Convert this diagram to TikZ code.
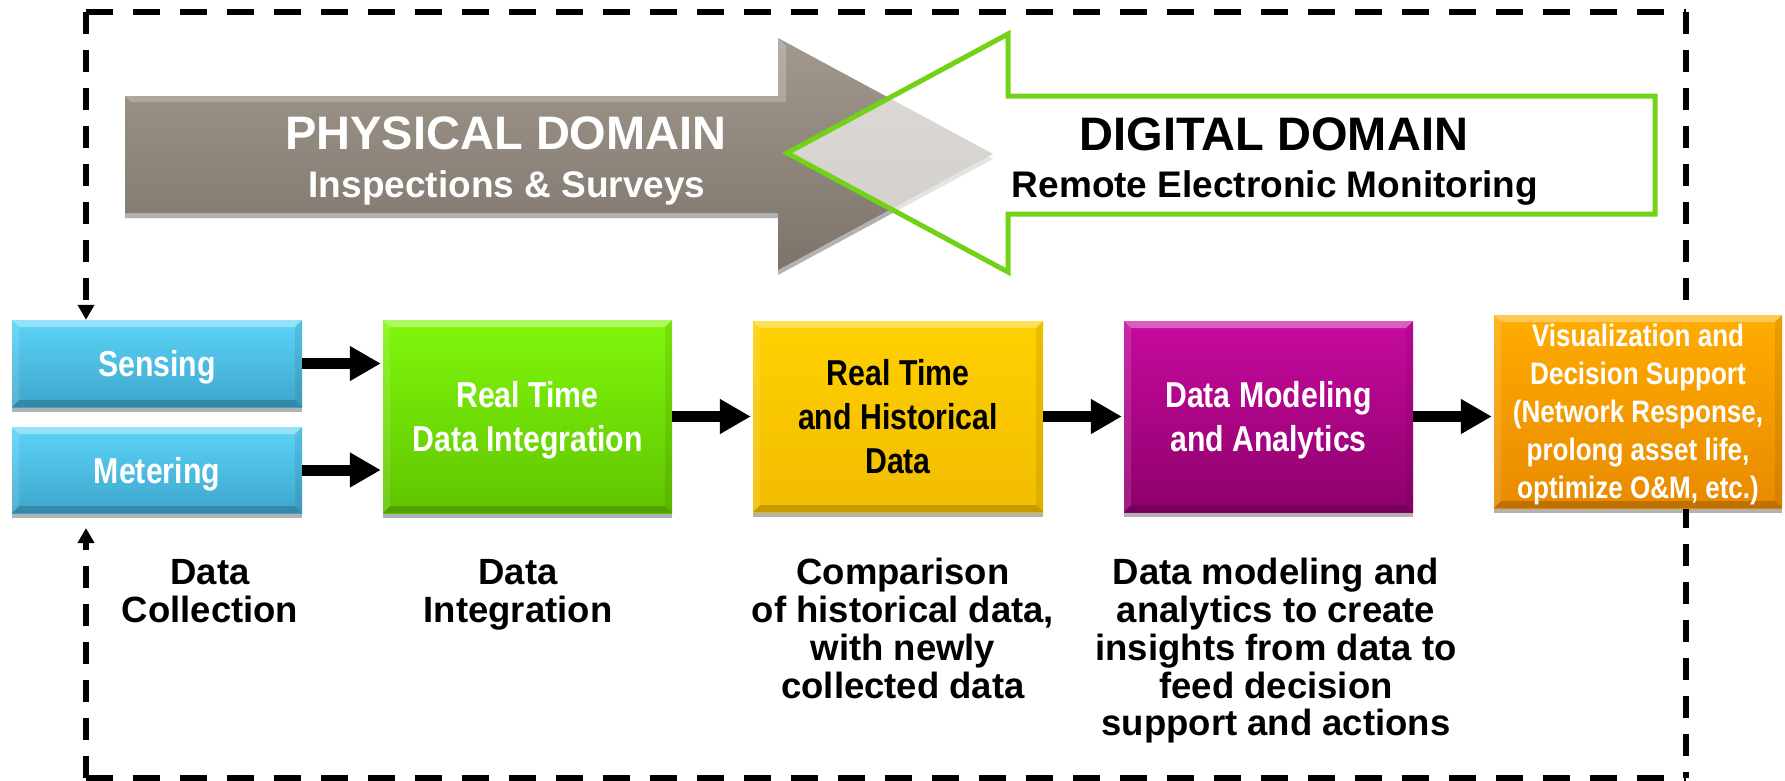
\documentclass[tikz,border=0pt]{standalone}
\usepackage{fontspec}
\setmainfont{Liberation Sans}
\newfontfamily\narrowfont[FakeStretch=0.84]{Liberation Sans}
\usetikzlibrary{arrows.meta,shadows}
\definecolor{blueT}{RGB}{92,211,247}
\definecolor{blueB}{RGB}{62,166,204}
\definecolor{greenT}{RGB}{128,247,12}
\definecolor{greenB}{RGB}{96,196,0}
\definecolor{yellowT}{RGB}{255,208,0}
\definecolor{yellowB}{RGB}{242,188,0}
\definecolor{magT}{RGB}{198,10,158}
\definecolor{magB}{RGB}{142,0,108}
\definecolor{orT}{RGB}{255,172,0}
\definecolor{orB}{RGB}{232,138,0}
\definecolor{greyT}{RGB}{162,152,142}
\definecolor{greyB}{RGB}{124,116,107}
\definecolor{arrgreen}{RGB}{114,210,22}
\tikzset{
  bevel/.style={path picture={
    \fill[white,opacity=0.35] (path picture bounding box.north west) -- (path picture bounding box.north east) -- ([xshift=-7pt,yshift=-7pt]path picture bounding box.north east) -- ([xshift=7pt,yshift=-7pt]path picture bounding box.north west) -- cycle;
    \fill[black,opacity=0.18] (path picture bounding box.south west) -- (path picture bounding box.south east) -- ([xshift=-7pt,yshift=7pt]path picture bounding box.south east) -- ([xshift=7pt,yshift=7pt]path picture bounding box.south west) -- cycle;
    \fill[white,opacity=0.12] (path picture bounding box.north west) -- ([xshift=7pt,yshift=-7pt]path picture bounding box.north west) -- ([xshift=7pt,yshift=7pt]path picture bounding box.south west) -- (path picture bounding box.south west) -- cycle;
    \fill[black,opacity=0.08] (path picture bounding box.north east) -- ([xshift=-7pt,yshift=-7pt]path picture bounding box.north east) -- ([xshift=-7pt,yshift=7pt]path picture bounding box.south east) -- (path picture bounding box.south east) -- cycle;
  }},
  procbox/.style={inner sep=0pt, align=center, text=white, text depth=0pt,
    font=\narrowfont\bfseries\fontsize{36}{44}\selectfont,
    drop shadow={shadow xshift=0pt,shadow yshift=-5pt,opacity=0.3,fill=black}, bevel},
  flow/.style={line width=11pt, -{Triangle[length=31pt,width=33pt]}, shorten >=2pt},
  frameh/.style={line width=6pt, dash pattern=on 27pt off 20pt},
  framev/.style={line width=6pt, dash pattern=on 22pt off 16pt},
  framearrow/.style={framev, -{Triangle[length=15pt,width=16pt]}},
  caption/.style={inner sep=0pt, align=center, anchor=north,
    font=\bfseries\fontsize{36.5}{37.8}\selectfont},
  bigtitle/.style={inner sep=0pt, font=\bfseries\fontsize{47}{56}\selectfont},
  subtitle/.style={inner sep=0pt, font=\bfseries\fontsize{37}{44}\selectfont},
}
\begin{document}
\begin{tikzpicture}[x=1pt,y=-1pt]
\useasboundingbox (0,0) rectangle (1785,780);
% dashed frame
\coordinate (ftl) at (86,12);
\coordinate (ftr) at (1686,12);
\coordinate (fbl) at (86,778);
\coordinate (fbr) at (1686,778);
\draw[frameh] (ftl) -- (ftr);
\draw[frameh] (fbl) -- (fbr);
\draw[framev] (ftr) -- (fbr);
% domain arrows
\path[top color=greyT, bottom color=greyB, drop shadow={shadow xshift=0pt,shadow yshift=-5pt,opacity=0.3,fill=black}]
  (125,96) -- (778,96) -- (778,38) -- (993,154) -- (778,270) -- (778,213) -- (125,213) -- cycle;
\fill[white,opacity=0.22] (125,96) -- (778,96) -- (778,38) -- (786,46) -- (786,102) -- (131,102) -- cycle;
\draw[line width=5pt, draw=arrgreen, fill=white, fill opacity=0.65, line join=miter]
  (1655,96) -- (1008,96) -- (1008,34) -- (787,153) -- (1008,272) -- (1008,214) -- (1655,214) -- cycle;
\node[bigtitle, text=white] (phys) at (506,133) {PHYSICAL DOMAIN};
\node[subtitle, text=white] (insp) at (507,188) {Inspections \& Surveys};
\node[bigtitle, text=black] (digi) at (1274,134) {DIGITAL DOMAIN};
\node[subtitle, text=black] (remote) at (1275,188) {Remote Electronic Monitoring};
% process boxes
\node[procbox, top color=blueT, bottom color=blueB, minimum width=290pt, minimum height=87pt] (sensing) at (157,363.5) {Sensing};
\node[procbox, top color=blueT, bottom color=blueB, minimum width=290pt, minimum height=86pt] (metering) at (157,470) {Metering};
\node[procbox, top color=greenT, bottom color=greenB, minimum width=289pt, minimum height=193pt] (rtdi) at (527.5,416.5) {Real Time\\Data Integration};
\node[procbox, text=black, top color=yellowT, bottom color=yellowB, minimum width=290pt, minimum height=191pt] (rthd) at (898,416.5) {Real Time\\and Historical\\Data};
\node[procbox, top color=magT, bottom color=magB, minimum width=289pt, minimum height=191pt] (dma) at (1268.5,416.5) {Data Modeling\\and Analytics};
\node[procbox, top color=orT, bottom color=orB, minimum width=288pt, minimum height=193pt, font=\narrowfont\bfseries\fontsize{31}{38}\selectfont] (vis) at (1638,411.5) {Visualization and\\Decision Support\\(Network Response,\\prolong asset life,\\optimize O\&M, etc.)};
% frame arrows on the left
\coordinate (fin) at (86,528);
\draw[framearrow] (ftl) -- (ftl |- sensing.north);
\draw[framearrow] (fbl) -- (fin);
% flow connectors
\draw[flow] (sensing.east) -- (sensing.east -| rtdi.west);
\draw[flow] (metering.east) -- (metering.east -| rtdi.west);
\draw[flow] (rtdi.east) -- (rthd.west);
\draw[flow] (rthd.east) -- (dma.west);
\draw[flow] (dma.east) -- (dma.east -| vis.west);
% captions
\node[caption] (cap1) at (210,559) {Data\\Collection};
\node[caption] (cap2) at (518,559) {Data\\Integration};
\node[caption] (cap3) at (903,558) {Comparison\\of historical data,\\with newly\\collected data};
\node[caption] (cap4) at (1276,558) {Data modeling and\\analytics to create\\insights from data to\\feed decision\\support and actions};
\end{tikzpicture}
\end{document}
